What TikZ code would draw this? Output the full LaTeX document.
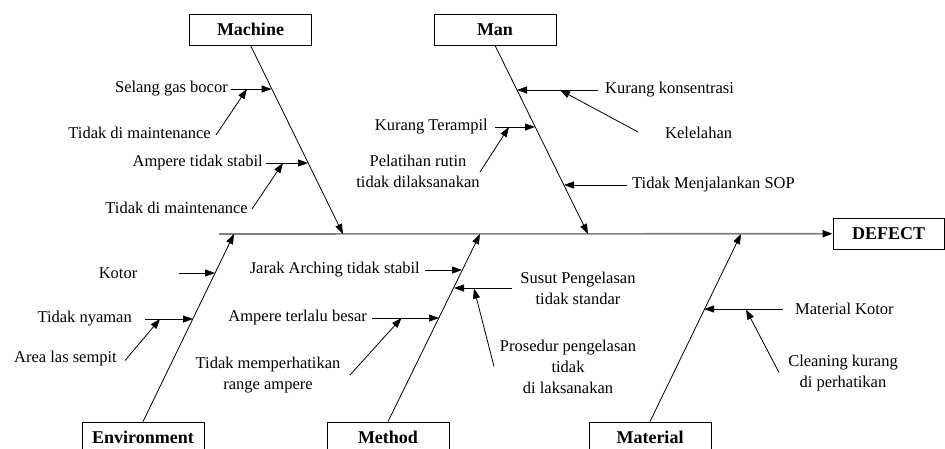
\documentclass[tikz,border=0pt]{standalone}
\usepackage{fontspec}
\setmainfont{Liberation Serif}
\usetikzlibrary{arrows.meta}
\begin{document}
\begin{tikzpicture}[x=1pt,y=-1pt,
  catbox/.style={draw,line width=0.8pt,minimum width=122pt,minimum height=31pt,inner sep=0pt,font=\fontsize{18}{20}\selectfont\bfseries},
  lbl/.style={inner sep=0pt,font=\fontsize{16.5}{21}\selectfont,align=center},
  bone/.style={line width=0.8pt,-{Triangle[length=10pt,width=7pt]}},
  spine/.style={line width=1.6pt,draw=black!50,-{Triangle[length=10pt,width=7pt,color=black]}}
]
\clip (0,0) rectangle (945,448);
% category boxes
\node[catbox] (machine) at (250.5,29.5) {Machine};
\node[catbox] (man) at (495,29.5) {Man};
\node[catbox] (env) at (143,437.5) {Environment};
\node[catbox] (method) at (388,437.5) {Method};
\node[catbox] (material) at (650,437.5) {Material};
\node[catbox,minimum width=111pt] (defect) at (888.5,233.7) {DEFECT};
% spine
\coordinate (sp0) at (219,234);
\draw[spine] (sp0) -- (defect.west);
% main bones
\coordinate (mtip) at (343,234);
\coordinate (ntip) at (588,234);
\coordinate (etip) at (234,234);
\coordinate (dtip) at (480,234);
\coordinate (ltip) at (741,234);
\draw[bone] (machine.south) -- (mtip);
\draw[bone] (man.south) -- (ntip);
\draw[bone] (env.north) -- (etip);
\draw[bone] (method.north) -- (dtip);
\draw[bone] (material.north) -- (ltip);
% Machine causes
\node[lbl,anchor=east] (m1) at (228,89) {Selang gas bocor};
\coordinate (m1t) at (271.6,89);
\draw[bone] (m1.east) ++(3,0) coordinate (m1s) (m1s) -- (m1t);
\node[lbl,anchor=east] (m1a) at (211,133) {Tidak di maintenance};
\coordinate (m1at) at (247,89);
\draw[bone] (m1a.east) ++(5,2) coordinate (m1as) (m1as) -- (m1at);
\node[lbl,anchor=east] (m2) at (263,163) {Ampere tidak stabil};
\coordinate (m2t) at (308,163);
\draw[bone] (m2.east) ++(3,0) coordinate (m2s) (m2s) -- (m2t);
\node[lbl,anchor=east] (m2a) at (248,208) {Tidak di maintenance};
\coordinate (m2at) at (283,163);
\draw[bone] (m2a.east) ++(4,1) coordinate (m2as) (m2as) -- (m2at);
% Man causes
\node[lbl,anchor=west] (n1) at (605,90) {Kurang konsentrasi};
\coordinate (n1t) at (517,90);
\draw[bone] (n1.west) ++(-7,0) coordinate (n1s) (n1s) -- (n1t);
\node[lbl,anchor=west] (n1a) at (665,133) {Kelelahan};
\coordinate (n1at) at (560,90);
\coordinate (n1as) at (638,132);
\draw[bone] (n1as) -- (n1at);
\node[lbl,anchor=east] (n2) at (488,127) {Kurang Terampil};
\coordinate (n2t) at (535,127);
\draw[bone] (n2.east) ++(7,0) coordinate (n2s) (n2s) -- (n2t);
\node[lbl] (n2a) at (418,171.5) {Pelatihan rutin\\tidak dilaksanakan};
\coordinate (n2at) at (509,127);
\coordinate (n2as) at (480,172);
\draw[bone] (n2as) -- (n2at);
\node[lbl,anchor=west] (n3) at (632,185) {Tidak Menjalankan SOP};
\coordinate (n3t) at (564,185);
\draw[bone] (n3.west) ++(-5,0) coordinate (n3s) (n3s) -- (n3t);
% Environment causes
\node[lbl] (e1) at (118,273) {Kotor};
\coordinate (e1s) at (179,273);
\coordinate (e1t) at (215,273);
\draw[bone] (e1s) -- (e1t);
\node[lbl,anchor=east] (e2) at (132,319) {Tidak nyaman};
\coordinate (e2t) at (193,319);
\draw[bone] (e2.east) ++(13,0) coordinate (e2s) (e2s) -- (e2t);
\node[lbl,anchor=east] (e2a) at (117,359) {Area las sempit};
\coordinate (e2at) at (160,319);
\coordinate (e2as) at (125,360.5);
\draw[bone] (e2as) -- (e2at);
% Method causes
\node[lbl,anchor=east] (d1) at (420,270) {Jarak Arching tidak stabil};
\coordinate (d1t) at (462,270);
\draw[bone] (d1.east) ++(5,0) coordinate (d1s) (d1s) -- (d1t);
\node[lbl,anchor=east] (d2) at (367,318) {Ampere terlalu besar};
\coordinate (d2t) at (439,318);
\draw[bone] (d2.east) ++(5,0) coordinate (d2s) (d2s) -- (d2t);
\node[lbl] (d2a) at (268,375) {Tidak memperhatikan\\range ampere};
\coordinate (d2at) at (401.5,318);
\coordinate (d2as) at (350,375);
\draw[bone] (d2as) -- (d2at);
\node[lbl] (d3) at (578,288.5) {Susut Pengelasan\\tidak standar};
\coordinate (d3s) at (511.5,288);
\coordinate (d3t) at (454,288);
\draw[bone] (d3s) -- (d3t);
\node[lbl] (d3a) at (568,366.7) {Prosedur pengelasan\\tidak\\di laksanakan};
\coordinate (d3as) at (494,366.5);
\coordinate (d3at) at (474,288.5);
\draw[bone] (d3as) -- (d3at);
% Material causes
\node[lbl,anchor=west] (l1) at (795,309) {Material Kotor};
\coordinate (l1s) at (783,309);
\coordinate (l1t) at (704,309);
\draw[bone] (l1s) -- (l1t);
\node[lbl] (l1a) at (843,373) {Cleaning kurang\\di perhatikan};
\coordinate (l1as) at (779,372.5);
\coordinate (l1at) at (746,309.5);
\draw[bone] (l1as) -- (l1at);
\end{tikzpicture}
\end{document}
